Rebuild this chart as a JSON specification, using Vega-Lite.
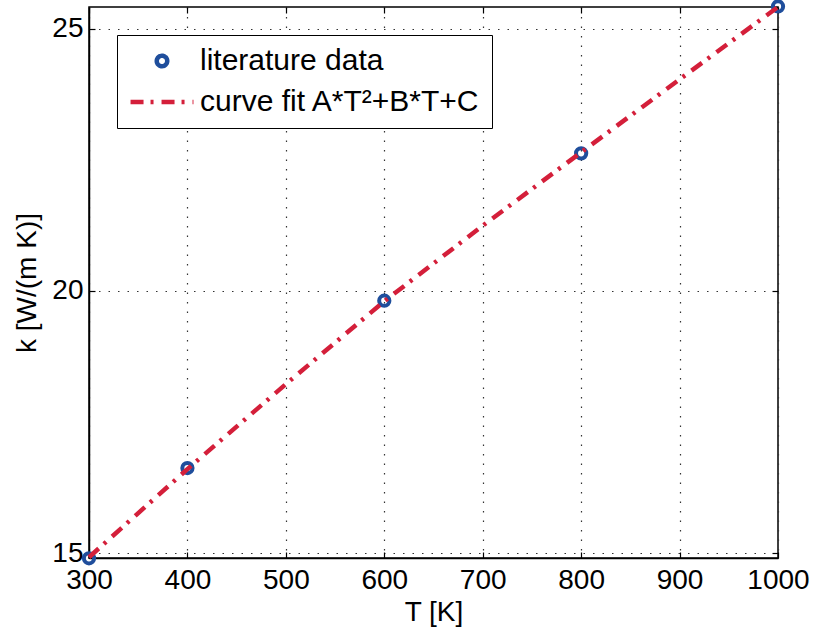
{
  "$schema": "https://vega.github.io/schema/vega-lite/v6.json",
  "autosize": "none",
  "width": 689,
  "height": 551,
  "padding": {"left": 89, "top": 7, "right": 38, "bottom": 80},
  "background": "white",
  "config": {
    "font": "Liberation Sans",
    "view": {"stroke": "black", "strokeWidth": 1.5},
    "axis": {
      "labelFont": "Liberation Sans",
      "titleFont": "Liberation Sans",
      "labelFontSize": 28,
      "titleFontSize": 28,
      "titleFontWeight": "normal",
      "labelColor": "black",
      "titleColor": "black",
      "domainColor": "black",
      "domainWidth": 1.5,
      "tickColor": "black",
      "tickWidth": 1.2,
      "tickSize": -6,
      "gridColor": "#333333",
      "gridDash": [1.5, 8],
      "gridWidth": 1.2,
      "gridOpacity": 1
    },
    "legend": {
      "labelFont": "Liberation Sans",
      "labelFontSize": 30,
      "labelColor": "black",
      "labelLimit": 0
    }
  },
  "datasets": {
    "lit": [
      {"T": 300, "k": 14.9, "series": "literature data"},
      {"T": 400, "k": 16.62, "series": "literature data"},
      {"T": 600, "k": 19.81, "series": "literature data"},
      {"T": 800, "k": 22.62, "series": "literature data"},
      {"T": 1000, "k": 25.42, "series": "literature data"}
    ],
    "fit": [
      {"T": 300, "k": 14.92, "series": "curve fit A*T²+B*T+C"},
      {"T": 400, "k": 16.6, "series": "curve fit A*T²+B*T+C"},
      {"T": 500, "k": 18.22, "series": "curve fit A*T²+B*T+C"},
      {"T": 600, "k": 19.8, "series": "curve fit A*T²+B*T+C"},
      {"T": 700, "k": 21.24, "series": "curve fit A*T²+B*T+C"},
      {"T": 800, "k": 22.64, "series": "curve fit A*T²+B*T+C"},
      {"T": 900, "k": 24.03, "series": "curve fit A*T²+B*T+C"},
      {"T": 1000, "k": 25.41, "series": "curve fit A*T²+B*T+C"}
    ]
  },
  "resolve": {"axis": {"x": "independent", "y": "independent"}},
  "layer": [
    {
      "data": {"name": "lit"},
      "mark": {"type": "point", "filled": false, "strokeWidth": 4, "size": 105, "opacity": 1, "clip": false},
      "encoding": {
        "x": {
          "field": "T", "type": "quantitative",
          "scale": {"domain": [300, 1000], "nice": false, "zero": false},
          "axis": {"title": "T [K]", "format": "d", "values": [300, 400, 500, 600, 700, 800, 900, 1000], "grid": true, "labelPadding": 14, "titlePadding": 4, "labelFlush": false, "labelOverlap": false}
        },
        "y": {
          "field": "k", "type": "quantitative",
          "scale": {"domain": [14.905, 25.41], "nice": false, "zero": false},
          "axis": {"title": "k [W/(m K)]", "values": [15, 20, 25], "grid": true, "labelPadding": 12, "titlePadding": 10, "labelFlush": false, "labelOverlap": false}
        },
        "color": {
          "field": "series", "type": "nominal",
          "scale": {"domain": ["literature data", "curve fit A*T²+B*T+C"], "range": ["#1f4e9c", "#d41f3a"]},
          "legend": {
            "title": null,
            "orient": "none",
            "legendX": 28,
            "legendY": 28,
            "padding": 11,
            "strokeColor": "black",
            "fillColor": "white",
            "symbolSize": 110,
            "symbolStrokeWidth": 4.5,
            "symbolOffset": 19,
            "labelOffset": 23,
            "labelLimit": 0,
            "rowPadding": 11,
            "encode": {"legend": {"update": {"strokeWidth": {"value": 1.5}}}}
          }
        },
        "shape": {
          "field": "series", "type": "nominal",
          "scale": {"domain": ["literature data", "curve fit A*T²+B*T+C"], "range": ["circle", "M-6,0H6"]},
          "legend": {"title": null}
        }
      }
    },
    {
      "data": {"name": "fit"},
      "mark": {"type": "line", "strokeWidth": 4.5, "clip": false},
      "encoding": {
        "x": {
          "field": "T", "type": "quantitative",
          "axis": {"orient": "top", "title": null, "labels": false, "grid": false, "domain": false, "values": [300, 400, 500, 600, 700, 800, 900, 1000]}
        },
        "y": {
          "field": "k", "type": "quantitative",
          "axis": {"orient": "right", "title": null, "labels": false, "grid": false, "domain": false, "values": [15, 20, 25]}
        },
        "color": {"field": "series", "type": "nominal"},
        "strokeDash": {
          "field": "series", "type": "nominal",
          "scale": {"domain": ["literature data", "curve fit A*T²+B*T+C"], "range": [[1, 0], [13, 7, 3, 8]]},
          "legend": {"title": null}
        }
      }
    }
  ]
}
